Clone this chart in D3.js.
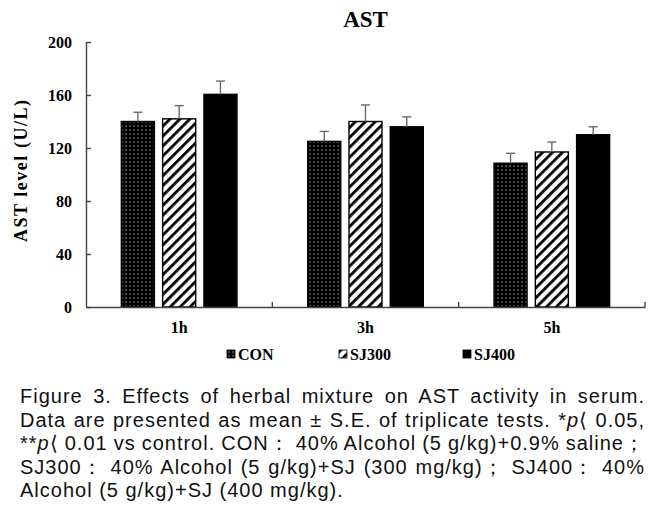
<!DOCTYPE html>
<html>
<head>
<meta charset="utf-8">
<script src="https://cdn.jsdelivr.net/npm/d3@7"></script>
<style>
  html, body { margin: 0; padding: 0; background: #fff; }
  svg { display: block; }
</style>
</head>
<body>
<svg id="chart" width="664" height="517"></svg>
<script>
// ---- data ----
const categories = ["1h", "3h", "5h"];
const seriesNames = ["CON", "SJ300", "SJ400"];
const conValues = [140, 125, 108.5];
const sj300Values = [142, 140, 117];
const sj400Values = [160.5, 136, 130];
const conErrors = [7, 7.5, 7.5];
const sj300Errors = [10, 12.5, 7.5];
const sj400Errors = [10, 7.5, 6];
const yTicks = [0, 40, 80, 120, 160, 200];
const chartTitle = "AST";
const yLabel = "AST level (U/L)";
const captionLines = [
  [{t: "Figure 3. Effects of herbal mixture on AST activity in serum."}],
  [{t: "Data are presented as mean \u00b1 S.E. of triplicate tests. *"}, {t: "p", i: true}, {t: "\u27e8 0.05,"}],
  [{t: "**"}, {t: "p", i: true}, {t: "\u27e8 0.01 vs control. CON\uff1a 40% Alcohol (5 g/kg)+0.9% saline\uff1b"}],
  [{t: "SJ300\uff1a 40% Alcohol (5 g/kg)+SJ (300 mg/kg)\uff1b SJ400\uff1a 40%"}],
  [{t: "Alcohol (5 g/kg)+SJ (400 mg/kg)."}]
];

const valuesBySeries = [conValues, sj300Values, sj400Values];
const errorsBySeries = [conErrors, sj300Errors, sj400Errors];
const rows = [];
seriesNames.forEach((s, si) => categories.forEach((c, ci) => {
  rows.push({series: s, cat: c, value: valuesBySeries[si][ci], err: errorsBySeries[si][ci]});
}));

const svg = d3.select("#chart");
const serif = "'Liberation Serif', 'Times New Roman', serif";

// patterns
const defs = svg.append("defs");
const dots = defs.append("pattern").attr("id", "dots").attr("patternUnits", "userSpaceOnUse")
  .attr("width", 4).attr("height", 4);
dots.append("rect").attr("width", 4).attr("height", 4).attr("fill", "#000");
dots.append("rect").attr("x", 1.5).attr("y", 1.5).attr("width", 1.1).attr("height", 1.1).attr("fill", "#ddd");
const stripes = defs.append("pattern").attr("id", "stripes").attr("patternUnits", "userSpaceOnUse")
  .attr("width", 7).attr("height", 7).attr("patternTransform", "rotate(45)");
stripes.append("rect").attr("width", 7).attr("height", 7).attr("fill", "#fff");
stripes.append("rect").attr("width", 2.8).attr("height", 7).attr("fill", "#000");
const fills = {CON: "url(#dots)", SJ300: "url(#stripes)", SJ400: "#000"};

// scales
const plotL = 86, plotR = 645, plotT = 42, plotB = 307;
const y = d3.scaleLinear().domain([0, 200]).range([plotB, plotT]);
const x0 = d3.scaleBand().domain(categories).range([plotL, plotR]).padding(0);
const x1 = d3.scaleBand().domain(seriesNames).range([-57.8, 57.8]).paddingInner(0.2).paddingOuter(0);
const gc = c => x0(c) + x0.bandwidth() / 2;

// title
svg.append("text").attr("x", (plotL + plotR) / 2).attr("y", 27)
  .attr("text-anchor", "middle").attr("font-family", serif).attr("font-weight", "bold")
  .attr("font-size", 23).text(chartTitle);

// y label
svg.append("text").attr("transform", `translate(27,${171}) rotate(-90)`)
  .attr("text-anchor", "middle").attr("font-family", serif).attr("font-weight", "bold")
  .attr("font-size", 18).attr("textLength", 142).attr("lengthAdjust", "spacing").text(yLabel);

// bars
svg.append("g").selectAll("rect").data(rows).join("rect")
  .attr("x", d => gc(d.cat) + x1(d.series))
  .attr("y", d => y(d.value))
  .attr("width", x1.bandwidth())
  .attr("height", d => y(0) - y(d.value))
  .attr("fill", d => fills[d.series])
  .attr("stroke", "#000").attr("stroke-width", 1.4);

// error bars
const eb = svg.append("g").attr("stroke", "#6a6a6a").attr("stroke-width", 1.4);
eb.selectAll("line.stem").data(rows).join("line").attr("class", "stem")
  .attr("x1", d => gc(d.cat) + x1(d.series) + x1.bandwidth() / 2)
  .attr("x2", d => gc(d.cat) + x1(d.series) + x1.bandwidth() / 2)
  .attr("y1", d => y(d.value)).attr("y2", d => y(d.value + d.err));
eb.selectAll("line.cap").data(rows).join("line").attr("class", "cap")
  .attr("x1", d => gc(d.cat) + x1(d.series) + x1.bandwidth() / 2 - 4.5)
  .attr("x2", d => gc(d.cat) + x1(d.series) + x1.bandwidth() / 2 + 4.5)
  .attr("y1", d => y(d.value + d.err)).attr("y2", d => y(d.value + d.err));

// y axis
const yAxis = svg.append("g").attr("transform", `translate(${plotL},0)`)
  .call(d3.axisLeft(y).tickValues(yTicks).tickFormat(d3.format("d"))
    .tickSizeInner(-5).tickSizeOuter(0).tickPadding(14));
yAxis.select(".domain").attr("stroke", "#444").attr("stroke-width", 1.4);
yAxis.selectAll(".tick line").attr("stroke", "#444").attr("stroke-width", 1.4);
yAxis.selectAll("text").attr("font-family", serif).attr("font-weight", "bold")
  .attr("font-size", 16).attr("fill", "#000");

// x axis
const xAxis = svg.append("g").attr("transform", `translate(0,${plotB})`)
  .call(d3.axisBottom(x0).tickSize(0).tickPadding(15));
xAxis.select(".domain").attr("stroke", "#444").attr("stroke-width", 1.4);
xAxis.selectAll("text").attr("font-family", serif).attr("font-weight", "bold")
  .attr("font-size", 16).attr("fill", "#000");
const bounds = categories.slice(1).map(c => x0(c)).concat([plotR]);
xAxis.selectAll("line.bound").data(bounds).join("line").attr("class", "bound")
  .attr("x1", d => d).attr("x2", d => d).attr("y1", 0).attr("y2", -5)
  .attr("stroke", "#444").attr("stroke-width", 1.4);

// legend
const legendX = [227, 339, 463];
const lg = svg.append("g").selectAll("g").data(seriesNames).join("g")
  .attr("transform", (d, i) => `translate(${legendX[i]},350)`);
lg.append("rect").attr("width", 8).attr("height", 8).attr("fill", d => fills[d])
  .attr("stroke", "#000").attr("stroke-width", 0.8);
lg.append("text").attr("x", 11).attr("y", 9.5).attr("font-family", serif)
  .attr("font-weight", "bold").attr("font-size", 16).text(d => d);

// caption (justified)
const capFont = "'Liberation Sans', Arial, sans-serif";
const capL = 20, capW = 625, capBase = 403, capStep = 23.5;
captionLines.forEach((parts, li) => {
  const t = svg.append("text").attr("x", capL).attr("y", capBase + li * capStep)
    .attr("font-family", capFont).attr("font-size", 20).attr("letter-spacing", 1)
    .attr("fill", "#111");
  parts.forEach(p => {
    const ts = t.append("tspan").text(p.t);
    if (p.i) ts.attr("font-style", "italic");
  });
  if (li < captionLines.length - 1) {
    const w = t.node().getBBox().width;
    const full = parts.map(p => p.t).join("");
    const spaces = (full.match(/ /g) || []).length;
    if (spaces > 0) t.attr("word-spacing", (capW - w) / spaces);
  }
});
</script>
</body>
</html>
